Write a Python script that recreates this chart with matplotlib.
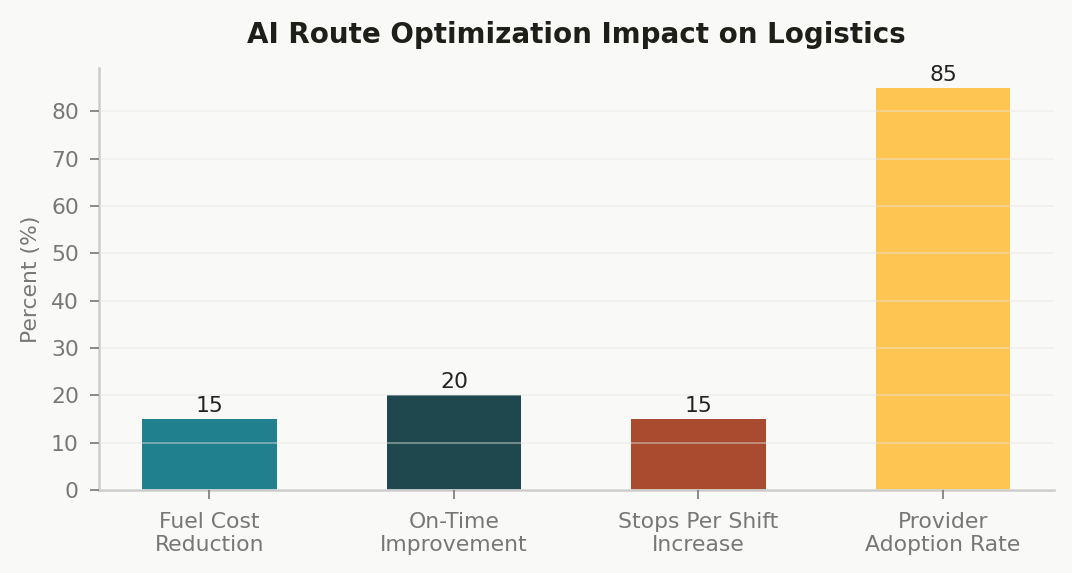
import matplotlib
matplotlib.use("Agg")
import matplotlib.pyplot as plt

categories = ["Fuel Cost\nReduction", "On-Time\nImprovement", "Stops Per Shift\nIncrease", "Provider\nAdoption Rate"]
values = [15, 20, 15, 85]
colors = ["#21808D", "#1E484E", "#A84B2F", "#FFC553"]

bg = "#F9F9F7"
fig, ax = plt.subplots(figsize=(7.153, 3.82), dpi=150)
fig.patch.set_facecolor(bg)
ax.set_facecolor(bg)

x = range(len(categories))
bars = ax.bar(x, values, width=0.55, color=colors, zorder=1)

# valeurs au-dessus des barres
for b, v in zip(bars, values):
    ax.text(b.get_x() + b.get_width() / 2, v + 0.6, str(v), ha="center", va="bottom",
            fontsize=10.5, color="#222222")

ax.set_xticks(list(x))
ax.set_xticklabels(categories, fontsize=10.5, color="#777777")
ax.set_ylim(0, max(values) * 1.05)
ax.set_yticks(range(0, 90, 10))
ax.tick_params(axis="y", labelsize=10.5, colors="#777777", length=4.5, pad=5)
ax.tick_params(axis="x", colors="#777777", length=4.5, pad=6)
ax.set_ylabel("Percent (%)", fontsize=10.5, color="#777777", labelpad=5)
ax.set_title("AI Route Optimization Impact on Logistics", fontsize=13.3, fontweight="bold",
             color="#1F1F1A", pad=12)

ax.grid(axis="y", color="#E6E6E2", linewidth=0.8, alpha=0.5, zorder=2)
ax.set_axisbelow(False)
for s in ["top", "right"]:
    ax.spines[s].set_visible(False)
for s in ["left", "bottom"]:
    ax.spines[s].set_color("#CCCCCC")
    ax.spines[s].set_linewidth(1.2)

fig.subplots_adjust(left=0.092, right=0.982, top=0.882, bottom=0.145)
fig.savefig("out.png", dpi=150, facecolor=bg)
